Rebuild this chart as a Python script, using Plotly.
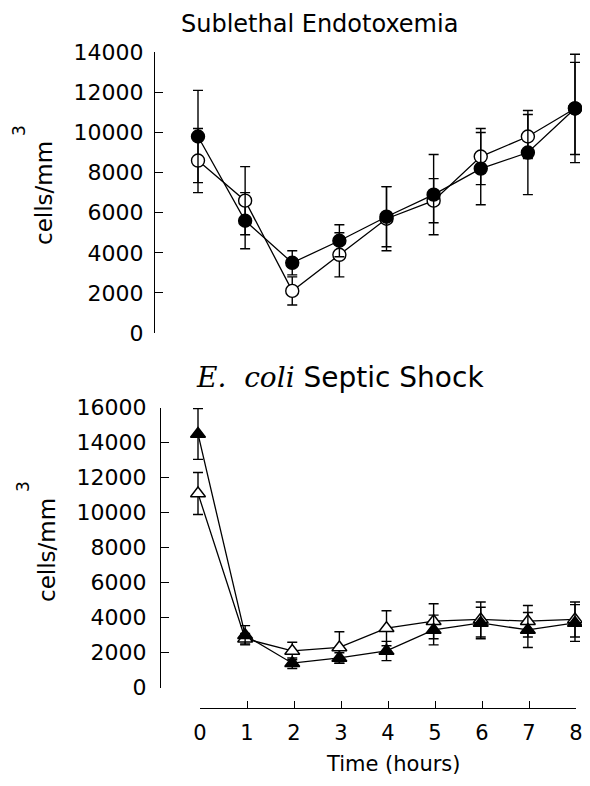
import plotly.graph_objects as go

OFF = 8  # page body margin of the browser
W, H = 590 - 2 * OFF, 786 - 2 * OFF

hours = [0, 1, 2, 3, 4, 5, 6, 7, 8]
hour_labels = ["0", "1", "2", "3", "4", "5", "6", "7", "8"]

# Sublethal endotoxemia (cells/mm^3)
endo_filled = [9800, 5600, 3500, 4600, 5800, 6900, 8200, 9000, 11200]
endo_filled_err = [2300, 1400, 600, 800, 1500, 2000, 1800, 2100, 2700]
endo_open = [8600, 6600, 2100, 3900, 5700, 6600, 8800, 9800, 11200]
endo_open_err = [1600, 1700, 700, 1100, 1600, 1100, 1400, 1100, 2300]

# E. coli septic shock (cells/mm^3)
septic_filled = [14500, 3000, 1400, 1700, 2100, 3300, 3700, 3300, 3700]
septic_filled_err = [1450, 550, 300, 300, 550, 850, 900, 1000, 1050]
septic_open = [11100, 2800, 2100, 2300, 3400, 3800, 3900, 3800, 3900]
septic_open_err = [1200, 300, 500, 900, 1000, 1000, 1000, 900, 1000]

top_ticks = [0, 2000, 4000, 6000, 8000, 10000, 12000, 14000]
top_labels = ["0", "2000", "4000", "6000", "8000", "10000", "12000", "14000"]
bot_ticks = [0, 2000, 4000, 6000, 8000, 10000, 12000, 14000, 16000]
bot_labels = ["0", "2000", "4000", "6000", "8000", "10000", "12000", "14000", "16000"]

FONT = "DejaVu Sans"
LW = 1.3


def px_x(p):
    return (p - OFF) / W


def px_y(p):
    return 1 - (p - OFF) / H


fig = go.Figure()


def add_series(y, err, xa, ya, symbol, filled):
    fig.add_trace(go.Scatter(
        x=hours, y=y, xaxis=xa, yaxis=ya, mode="lines+markers",
        line=dict(color="black", width=LW),
        marker=dict(symbol=symbol, size=13,
                    color="black" if filled else "white",
                    line=dict(color="black", width=1.4)),
        error_y=dict(type="data", array=err, visible=True,
                     color="black", thickness=1.4, width=5),
        showlegend=False, cliponaxis=False,
    ))


add_series(endo_open, endo_open_err, "x", "y", "circle", False)
add_series(endo_filled, endo_filled_err, "x", "y", "circle", True)
add_series(septic_open, septic_open_err, "x2", "y2", "triangle-up", False)
add_series(septic_filled, septic_filled_err, "x2", "y2", "triangle-up", True)

# invisible trace to hold the detached time axis
fig.add_trace(go.Scatter(x=hours, y=[0] * 9, xaxis="x3", yaxis="y3",
                         mode="markers", marker=dict(opacity=0),
                         showlegend=False, hoverinfo="skip"))

X0 = 198.0
X8 = 575.0
PPH = (X8 - X0) / 8
RIGHT = 582.0

yaxis_common = dict(
    showline=True, linecolor="black", linewidth=1.4,
    ticks="inside", ticklen=8, tickwidth=1.4, tickcolor="black",
    showgrid=False, zeroline=False, automargin=False,
    tickfont=dict(family=FONT, size=22, color="black"),
)

fig.update_layout(
    template="none",
    width=W, height=H, autosize=False,
    margin=dict(l=0, r=0, t=0, b=0, pad=0),
    paper_bgcolor="white", plot_bgcolor="white",
    font=dict(family=FONT, color="black"),
    xaxis=dict(domain=[px_x(155), px_x(RIGHT)],
               range=[-(X0 - 155) / PPH, (RIGHT - X0) / PPH],
               visible=False, anchor="y", automargin=False),
    yaxis=dict(domain=[px_y(333), px_y(52.3)], range=[0, 14000],
               tickvals=top_ticks, ticktext=top_labels, anchor="x",
               ticklabelstandoff=6, **yaxis_common),
    xaxis2=dict(domain=[px_x(161), px_x(RIGHT)],
                range=[-(X0 - 161) / PPH, (RIGHT - X0) / PPH],
                visible=False, anchor="y2", automargin=False),
    yaxis2=dict(domain=[px_y(687.7), px_y(407.7)], range=[0, 16000],
                tickvals=bot_ticks, ticktext=bot_labels, anchor="x2",
                ticklabelstandoff=9, **yaxis_common),
    xaxis3=dict(domain=[px_x(X0 + 2), px_x(X8 + 1)], range=[0, 8],
                anchor="y3", showline=True, linecolor="black", linewidth=1.4,
                ticks="inside", ticklen=7, tickwidth=1.4, tickcolor="black",
                tickvals=hours, ticktext=hour_labels, showgrid=False,
                zeroline=False, ticklabelstandoff=6, automargin=False,
                ticklabeloverflow="allow",
                tickfont=dict(family=FONT, size=21, color="black")),
    yaxis3=dict(domain=[px_y(708), px_y(698)], range=[0, 1], visible=False,
                anchor="x3", automargin=False),
)

annotations = [
    dict(text="Sublethal Endotoxemia", x=px_x(319), y=px_y(24),
         font=dict(family=FONT, size=24, color="black")),
    dict(text="<span style=\"font-family:'DejaVu Serif'\"><i>E.</i>&nbsp; <i>coli</i></span>&nbsp;Septic Shock",
         x=px_x(340), y=px_y(377),
         font=dict(family=FONT, size=28, color="black")),
    dict(text="Time (hours)", x=px_x(393), y=px_y(764),
         font=dict(family=FONT, size=21, color="black")),
    dict(text="cells/mm", x=px_x(44), y=px_y(193), textangle=-90,
         font=dict(family=FONT, size=23, color="black")),
    dict(text="3", x=px_x(19), y=px_y(131), textangle=-90,
         font=dict(family=FONT, size=17, color="black")),
    dict(text="cells/mm", x=px_x(47), y=px_y(550), textangle=-90,
         font=dict(family=FONT, size=23, color="black")),
    dict(text="3", x=px_x(23), y=px_y(487), textangle=-90,
         font=dict(family=FONT, size=17, color="black")),
]
for a in annotations:
    a.update(xref="paper", yref="paper", showarrow=False,
             xanchor="center", yanchor="middle", borderpad=0)
fig.update_layout(annotations=annotations)

fig.write_html("out.html")
